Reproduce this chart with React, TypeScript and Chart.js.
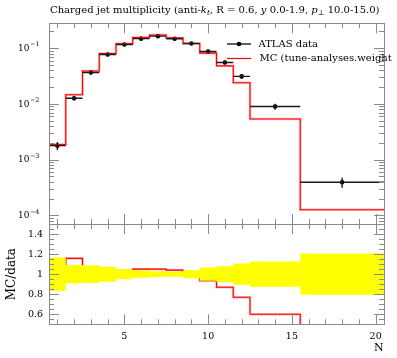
import React, { useEffect, useRef } from "react";
import { Chart, registerables } from "chart.js";
Chart.register(...registerables);

// ---------- data ----------
const binEdges = [0.5, 1.5, 2.5, 3.5, 4.5, 5.5, 6.5, 7.5, 8.5, 9.5, 10.5, 11.5, 12.5, 15.5, 20.5];
const binCenters = [1, 2, 3, 4, 5, 6, 7, 8, 9, 10, 11, 12, 14, 18];
const dataValues = [1.78e-3, 0.0126, 0.0366, 0.0769, 0.116, 0.148, 0.164, 0.147, 0.121, 0.087, 0.0553, 0.0311, 0.00895, 3.93e-4];
const dataRelErr = [0.166, 0.09, 0.088, 0.075, 0.05, 0.037, 0.028, 0.025, 0.04, 0.067, 0.08, 0.105, 0.126, 0.205];
const mcValues = [1.87e-3, 0.01458, 0.0389, 0.080, 0.120, 0.155, 0.172, 0.153, 0.121, 0.0813, 0.0481, 0.0239, 0.00537, 1.26e-4];
const mcRatio = [1.05, 1.157, 1.064, 1.04, 1.036, 1.05, 1.05, 1.04, 1.0, 0.935, 0.87, 0.77, 0.6, 0.32];

// ---------- ticks / labels ----------
const xTicks = [1, 2, 3, 4, 5, 6, 7, 8, 9, 10, 11, 12, 13, 14, 15, 16, 17, 18, 19, 20];
const xMajorTicks = [5, 10, 15, 20];
const xTickLabels = ["5", "10", "15", "20"];
const logDecades = [1e-5, 1e-4, 1e-3, 1e-2, 1e-1];
const logLabelled = [1e-4, 1e-3, 1e-2, 1e-1];
const logLabelExp = ["\u22124", "\u22123", "\u22122", "\u22121"];
const logMantissas = [2, 3, 4, 5, 6, 7, 8, 9];
const ratioMajorTicks = [0.6, 0.8, 1.0, 1.2, 1.4];
const ratioMajorLabels = ["0.6", "0.8", "1", "1.2", "1.4"];
const ratioMinorTicks = [0.55, 0.65, 0.7, 0.75, 0.85, 0.9, 0.95, 1.05, 1.1, 1.15, 1.25, 1.3, 1.35, 1.45];

const titleSegments = [
  { t: "Charged jet multiplicity (anti-", i: false, s: false },
  { t: "k", i: true, s: false },
  { t: "t", i: true, s: true },
  { t: ", R = 0.6, ", i: false, s: false },
  { t: "y", i: true, s: false },
  { t: " 0.0-1.9, ", i: false, s: false },
  { t: "p", i: true, s: false },
  { t: "\u22a5", i: false, s: true },
  { t: " 10.0-15.0)", i: false, s: false },
];
const legendDataLabel = "ATLAS data";
const legendMCLabel = "MC (tune-analyses.weight";
const ratioAxisTitle = "MC/data";
const xAxisTitle = "N";

const X_MIN = 0.5, X_MAX = 20.5;
const Y_MIN = 7.2e-5, Y_MAX = 0.279;
const R_MIN = 0.5, R_MAX = 1.5;

const W = 397, H = 358;
const AREA_LEFT = 49, AREA_RIGHT = 384;
const UP_TOP = 23.3, SPLIT = 224, R_BOTTOM = 324.3;

const FONT = '"DejaVu Serif", serif';
const FRAME = "#8a8a8a";

function font(size: number, italic = false) {
  return `${italic ? "italic " : ""}${size}px ${FONT}`;
}

function stepPoints(vals: number[]) {
  const pts: { x: number; y: number }[] = [];
  vals.forEach((v, i) => {
    pts.push({ x: binEdges[i], y: v });
    pts.push({ x: binEdges[i + 1], y: v });
  });
  return pts;
}

function drawXTicks(ctx: CanvasRenderingContext2D, xs: any, area: any) {
  ctx.strokeStyle = FRAME;
  ctx.lineWidth = 1;
  ctx.beginPath();
  xTicks.forEach((t) => {
    const len = xMajorTicks.includes(t) ? 10 : 5;
    const x = Math.round(xs.getPixelForValue(t)) + 0.5;
    ctx.moveTo(x, area.top);
    ctx.lineTo(x, area.top + len);
    ctx.moveTo(x, area.bottom);
    ctx.lineTo(x, area.bottom - len);
  });
  ctx.stroke();
}

function drawYTicks(ctx: CanvasRenderingContext2D, ys: any, area: any, vals: number[], len: number) {
  ctx.strokeStyle = FRAME;
  ctx.lineWidth = 1;
  ctx.beginPath();
  vals.forEach((v) => {
    const y = Math.round(ys.getPixelForValue(v)) + 0.5;
    if (y < area.top - 0.5 || y > area.bottom + 0.5) return;
    ctx.moveTo(area.left, y);
    ctx.lineTo(area.left + len, y);
    ctx.moveTo(area.right, y);
    ctx.lineTo(area.right - len, y);
  });
  ctx.stroke();
}

function drawFrame(ctx: CanvasRenderingContext2D, area: any) {
  ctx.strokeStyle = FRAME;
  ctx.lineWidth = 1;
  ctx.strokeRect(Math.round(area.left) + 0.5, Math.round(area.top) + 0.5, Math.round(area.right - area.left), Math.round(area.bottom - area.top));
}

function drawTitle(ctx: CanvasRenderingContext2D) {
  const base = 10;
  const measure = (size: number) => {
    let w = 0;
    titleSegments.forEach((s) => {
      ctx.font = font(s.s ? size * 0.72 : size, s.i);
      w += ctx.measureText(s.t).width;
    });
    return w;
  };
  const w10 = measure(base);
  const size = Math.min(11, base * (330 / w10));
  let x = 50;
  const y = 12.5;
  ctx.fillStyle = "#000";
  ctx.textBaseline = "alphabetic";
  ctx.textAlign = "left";
  titleSegments.forEach((s) => {
    ctx.font = font(s.s ? size * 0.72 : size, s.i);
    ctx.fillText(s.t, x, s.s ? y + 2.5 : y);
    x += ctx.measureText(s.t).width;
  });
}

const upperDeco = {
  id: "upperDeco",
  afterDatasetsDraw(chart: any) {
    const ctx: CanvasRenderingContext2D = chart.ctx;
    const xs = chart.scales.x, ys = chart.scales.y;
    const a = chart.chartArea;
    ctx.save();
    ctx.beginPath();
    ctx.rect(a.left, a.top, a.right - a.left, a.bottom - a.top);
    ctx.clip();
    ctx.strokeStyle = "#1a1a1a";
    ctx.lineWidth = 1.4;
    binCenters.forEach((c, i) => {
      const v = dataValues[i];
      const y = ys.getPixelForValue(v);
      const x = xs.getPixelForValue(c);
      ctx.beginPath();
      ctx.moveTo(xs.getPixelForValue(binEdges[i]), y);
      ctx.lineTo(xs.getPixelForValue(binEdges[i + 1]), y);
      ctx.moveTo(x, ys.getPixelForValue(v * (1 + dataRelErr[i])));
      ctx.lineTo(x, ys.getPixelForValue(v * (1 - dataRelErr[i])));
      ctx.stroke();
    });
    ctx.restore();
  },
  afterDraw(chart: any) {
    const ctx: CanvasRenderingContext2D = chart.ctx;
    const xs = chart.scales.x, ys = chart.scales.y;
    const a = chart.chartArea;
    ctx.save();
    drawFrame(ctx, a);
    drawXTicks(ctx, xs, a);
    const minors: number[] = [];
    logDecades.forEach((d) => logMantissas.forEach((m) => minors.push(m * d)));
    drawYTicks(ctx, ys, a, minors, 5);
    drawYTicks(ctx, ys, a, logLabelled, 10);
    // y labels
    ctx.fillStyle = "#000";
    ctx.textBaseline = "middle";
    ctx.textAlign = "left";
    logLabelled.forEach((v, i) => {
      const y = ys.getPixelForValue(v);
      ctx.font = font(6.5);
      const sw = ctx.measureText(logLabelExp[i]).width;
      ctx.font = font(9);
      const bw = ctx.measureText("10").width;
      const x0 = a.left - 10 - sw - bw;
      ctx.fillText("10", x0, y + 0.5);
      ctx.font = font(6.5);
      ctx.fillText(logLabelExp[i], x0 + bw + 0.5, y - 3.5);
    });
    drawTitle(ctx);
    // legend
    const ly1 = 44, ly2 = 58.5;
    ctx.lineWidth = 1.4;
    ctx.strokeStyle = "#1a1a1a";
    ctx.beginPath();
    ctx.moveTo(227, ly1);
    ctx.lineTo(251, ly1);
    ctx.stroke();
    ctx.fillStyle = "#000";
    ctx.beginPath();
    ctx.arc(239, ly1, 2.3, 0, Math.PI * 2);
    ctx.fill();
    ctx.strokeStyle = "#ff0000";
    ctx.lineWidth = 1.2;
    ctx.beginPath();
    ctx.moveTo(227, ly2);
    ctx.lineTo(251, ly2);
    ctx.stroke();
    ctx.font = font(10);
    ctx.textBaseline = "middle";
    ctx.fillText(legendDataLabel, 258.5, ly1);
    ctx.fillText(legendMCLabel, 259.5, ly2);
    ctx.restore();
  },
};

const ratioDeco = {
  id: "ratioDeco",
  afterDraw(chart: any) {
    const ctx: CanvasRenderingContext2D = chart.ctx;
    const xs = chart.scales.x, ys = chart.scales.y;
    const a = chart.chartArea;
    ctx.save();
    drawFrame(ctx, a);
    ctx.strokeStyle = "#6a6a6a";
    ctx.beginPath();
    ctx.moveTo(a.left, Math.round(a.top) + 0.5);
    ctx.lineTo(a.right, Math.round(a.top) + 0.5);
    ctx.stroke();
    drawXTicks(ctx, xs, a);
    drawYTicks(ctx, ys, a, ratioMinorTicks, 5);
    drawYTicks(ctx, ys, a, ratioMajorTicks, 10);
    ctx.fillStyle = "#000";
    ctx.font = font(9.5);
    ctx.textBaseline = "middle";
    ctx.textAlign = "right";
    ratioMajorTicks.forEach((v, i) => {
      ctx.fillText(ratioMajorLabels[i], a.left - 6, ys.getPixelForValue(v) + 0.5);
    });
    ctx.textAlign = "center";
    xMajorTicks.forEach((v, i) => {
      ctx.fillText(xTickLabels[i], xs.getPixelForValue(v), 337);
    });
    ctx.font = font(11);
    ctx.textAlign = "right";
    ctx.fillText(xAxisTitle, 383.5, 348.5);
    ctx.save();
    ctx.translate(12, (a.top + a.bottom) / 2);
    ctx.rotate(-Math.PI / 2);
    ctx.font = font(12);
    ctx.textAlign = "center";
    ctx.fillText(ratioAxisTitle, 0, 0);
    ctx.restore();
    ctx.restore();
  },
};

export default function App() {
  const upRef = useRef<HTMLCanvasElement>(null);
  const rRef = useRef<HTMLCanvasElement>(null);

  useEffect(() => {
    const mcPts = stepPoints(mcValues);
    const up = new Chart(upRef.current as HTMLCanvasElement, {
      type: "scatter",
      data: {
        datasets: [
          { type: "line", data: mcPts, borderColor: "rgba(255,0,0,0.3)", borderWidth: 2.4, pointRadius: 0, fill: false, tension: 0 } as any,
          { type: "line", data: mcPts, borderColor: "#ff0000", borderWidth: 1.1, pointRadius: 0, fill: false, tension: 0 } as any,
          {
            type: "scatter",
            data: binCenters.map((c, i) => ({ x: c, y: dataValues[i] })),
            pointRadius: 2.3,
            pointBackgroundColor: "#000",
            pointBorderColor: "#000",
            pointBorderWidth: 0,
          } as any,
        ],
      },
      options: {
        animation: false,
        responsive: false,
        devicePixelRatio: 1,
        layout: { padding: { left: AREA_LEFT, right: W - AREA_RIGHT, top: UP_TOP, bottom: H - SPLIT } },
        scales: {
          x: { type: "linear", min: X_MIN, max: X_MAX, display: false },
          y: { type: "logarithmic", min: Y_MIN, max: Y_MAX, display: false },
        },
        plugins: { legend: { display: false }, tooltip: { enabled: false }, title: { display: false } },
      },
      plugins: [upperDeco],
    });

    const bandHi = stepPoints(dataRelErr.map((e) => 1 + e));
    const bandLo = stepPoints(dataRelErr.map((e) => 1 - e));
    const rPts = stepPoints(mcRatio);
    const ratio = new Chart(rRef.current as HTMLCanvasElement, {
      type: "line",
      data: {
        datasets: [
          { data: bandHi, borderWidth: 0, borderColor: "rgba(0,0,0,0)", pointRadius: 0, fill: false, tension: 0 },
          { data: bandLo, borderWidth: 0, borderColor: "rgba(0,0,0,0)", pointRadius: 0, fill: "-1", backgroundColor: "#ffff00", tension: 0 },
          { data: [{ x: X_MIN, y: 1 }, { x: X_MAX, y: 1 }], borderColor: "rgba(90,90,60,0.6)", borderWidth: 1, pointRadius: 0, fill: false },
          { data: rPts, borderColor: "rgba(255,0,0,0.3)", borderWidth: 2.4, pointRadius: 0, fill: false, tension: 0 },
          { data: rPts, borderColor: "#ff0000", borderWidth: 1.1, pointRadius: 0, fill: false, tension: 0 },
        ] as any,
      },
      options: {
        animation: false,
        responsive: false,
        devicePixelRatio: 1,
        layout: { padding: { left: AREA_LEFT, right: W - AREA_RIGHT, top: SPLIT, bottom: H - R_BOTTOM } },
        scales: {
          x: { type: "linear", min: X_MIN, max: X_MAX, display: false },
          y: { type: "linear", min: R_MIN, max: R_MAX, display: false },
        },
        plugins: { legend: { display: false }, tooltip: { enabled: false }, filler: { propagate: false } } as any,
      },
      plugins: [ratioDeco],
    });
    return () => {
      up.destroy();
      ratio.destroy();
    };
  }, []);

  const cstyle: React.CSSProperties = { position: "absolute", left: 0, top: 0, width: W, height: H };
  return (
    <div style={{ position: "absolute", left: 0, top: 0, width: W, height: H, background: "#fff" }}>
      <canvas ref={rRef} width={W} height={H} style={cstyle} />
      <canvas ref={upRef} width={W} height={H} style={cstyle} />
    </div>
  );
}
